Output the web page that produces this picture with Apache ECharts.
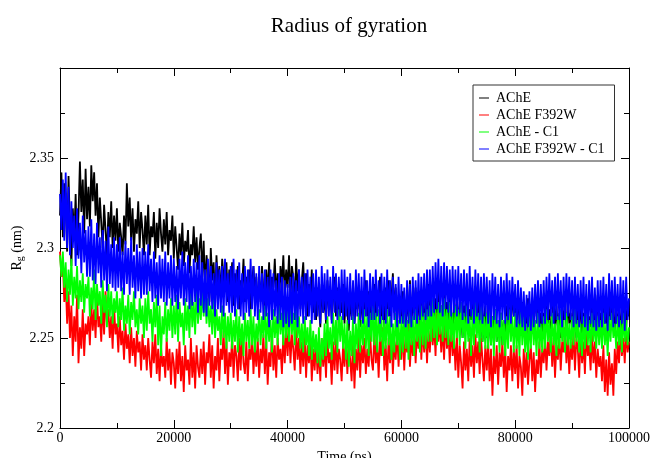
<!DOCTYPE html>
<html>
<head>
    <meta charset="utf-8">
    <title>Radius of gyration</title>
    <script src="https://cdn.jsdelivr.net/npm/echarts@6/dist/echarts.min.js"></script>
</head>
<body style="margin:0;">
    <div id="main" style="width: 651px;height:458px;"></div>
    <script type="text/javascript">
        // time between frames (ps)
        var timeStep = 250;

        var seriesNames = ['AChE', 'AChE F392W', 'AChE - C1', 'AChE F392W - C1'];
        var seriesColors = ['#000000', '#ff0000', '#00ff00', '#0000ff'];

        // Rg (nm), one value every 250 ps from 0 to 100000 ps (20 values per line = 5000 ps)
        var rgAChE = [
            2.318, 2.342, 2.306, 2.336, 2.324, 2.298, 2.340, 2.312, 2.290, 2.322, 2.304, 2.330, 2.296, 2.318, 2.348, 2.320, 2.338, 2.308, 2.344, 2.316,
            2.334, 2.312, 2.346, 2.326, 2.342, 2.318, 2.336, 2.306, 2.328, 2.314, 2.300, 2.324, 2.310, 2.296, 2.320, 2.306, 2.326, 2.300, 2.318, 2.304,
            2.322, 2.298, 2.314, 2.306, 2.296, 2.318, 2.302, 2.336, 2.312, 2.328, 2.304, 2.322, 2.298, 2.316, 2.308, 2.326, 2.300, 2.320, 2.310, 2.296,
            2.318, 2.302, 2.324, 2.296, 2.312, 2.306, 2.320, 2.294, 2.314, 2.300, 2.322, 2.308, 2.298, 2.316, 2.302, 2.320, 2.296, 2.310, 2.304, 2.318,
            2.294, 2.312, 2.300, 2.288, 2.308, 2.296, 2.314, 2.290, 2.304, 2.298, 2.310, 2.286, 2.302, 2.296, 2.312, 2.292, 2.306, 2.288, 2.300, 2.308,
            2.284, 2.304, 2.276, 2.296, 2.288, 2.270, 2.300, 2.282, 2.292, 2.268, 2.296, 2.280, 2.290, 2.272, 2.294, 2.284, 2.276, 2.292, 2.270, 2.288,
            2.276, 2.292, 2.268, 2.286, 2.274, 2.290, 2.266, 2.282, 2.278, 2.294, 2.270, 2.284, 2.272, 2.288, 2.266, 2.280, 2.290, 2.274, 2.284, 2.268,
            2.282, 2.270, 2.290, 2.276, 2.266, 2.288, 2.274, 2.292, 2.270, 2.284, 2.278, 2.294, 2.272, 2.286, 2.268, 2.290, 2.280, 2.296, 2.274, 2.288,
            2.278, 2.296, 2.272, 2.290, 2.284, 2.268, 2.294, 2.276, 2.288, 2.266, 2.282, 2.292, 2.270, 2.286, 2.262, 2.280, 2.272, 2.288, 2.264, 2.278,
            2.260, 2.278, 2.268, 2.256, 2.280, 2.264, 2.274, 2.258, 2.282, 2.266, 2.276, 2.260, 2.272, 2.284, 2.262, 2.278, 2.256, 2.270, 2.264, 2.280,
            2.258, 2.276, 2.264, 2.254, 2.272, 2.262, 2.280, 2.258, 2.270, 2.266, 2.278, 2.256, 2.274, 2.260, 2.268, 2.282, 2.262, 2.276, 2.258, 2.270,
            2.264, 2.280, 2.258, 2.276, 2.268, 2.284, 2.260, 2.274, 2.256, 2.278, 2.266, 2.282, 2.262, 2.272, 2.286, 2.264, 2.278, 2.258, 2.274, 2.268,
            2.260, 2.276, 2.266, 2.254, 2.272, 2.262, 2.282, 2.258, 2.270, 2.264, 2.278, 2.256, 2.268, 2.274, 2.260, 2.276, 2.254, 2.270, 2.262, 2.280,
            2.258, 2.274, 2.264, 2.252, 2.272, 2.260, 2.278, 2.256, 2.268, 2.262, 2.276, 2.254, 2.270, 2.258, 2.274, 2.264, 2.252, 2.270, 2.260, 2.272,
            2.256, 2.270, 2.262, 2.250, 2.268, 2.258, 2.274, 2.252, 2.266, 2.260, 2.272, 2.250, 2.264, 2.256, 2.270, 2.254, 2.266, 2.248, 2.262, 2.268,
            2.250, 2.264, 2.256, 2.246, 2.262, 2.252, 2.266, 2.248, 2.258, 2.254, 2.264, 2.246, 2.260, 2.250, 2.268, 2.256, 2.272, 2.258, 2.276, 2.262,
            2.268, 2.256, 2.274, 2.260, 2.252, 2.270, 2.258, 2.266, 2.250, 2.272, 2.262, 2.254, 2.268, 2.258, 2.276, 2.262, 2.270, 2.256, 2.264, 2.252,
            2.264, 2.252, 2.270, 2.258, 2.266, 2.250, 2.262, 2.272, 2.256, 2.268, 2.254, 2.264, 2.250, 2.270, 2.260, 2.266, 2.252, 2.272, 2.258, 2.264,
            2.254, 2.268, 2.260, 2.250, 2.266, 2.256, 2.272, 2.252, 2.264, 2.258, 2.270, 2.250, 2.262, 2.256, 2.268, 2.252, 2.266, 2.260, 2.274, 2.256,
            2.264, 2.252, 2.270, 2.258, 2.266, 2.250, 2.262, 2.272, 2.256, 2.268, 2.254, 2.264, 2.258, 2.270, 2.252, 2.266, 2.260, 2.272, 2.256, 2.268,
            2.262
        ];
        var rgF392W = [
            2.298, 2.284, 2.292, 2.270, 2.282, 2.258, 2.276, 2.250, 2.268, 2.240, 2.262, 2.248, 2.274, 2.236, 2.256, 2.244, 2.266, 2.240, 2.258, 2.252,
            2.262, 2.246, 2.270, 2.254, 2.266, 2.250, 2.274, 2.256, 2.262, 2.248, 2.270, 2.252, 2.276, 2.258, 2.266, 2.250, 2.262, 2.244, 2.268, 2.252,
            2.258, 2.242, 2.262, 2.246, 2.254, 2.238, 2.258, 2.244, 2.252, 2.236, 2.256, 2.240, 2.250, 2.234, 2.254, 2.242, 2.248, 2.232, 2.252, 2.238,
            2.246, 2.232, 2.250, 2.238, 2.228, 2.248, 2.236, 2.252, 2.230, 2.244, 2.226, 2.246, 2.234, 2.240, 2.228, 2.250, 2.232, 2.244, 2.224, 2.242,
            2.236, 2.222, 2.244, 2.230, 2.248, 2.226, 2.240, 2.220, 2.246, 2.232, 2.238, 2.224, 2.250, 2.228, 2.242, 2.222, 2.246, 2.234, 2.228, 2.244,
            2.230, 2.248, 2.224, 2.242, 2.236, 2.252, 2.228, 2.246, 2.222, 2.240, 2.232, 2.250, 2.226, 2.244, 2.238, 2.254, 2.230, 2.248, 2.224, 2.242,
            2.234, 2.252, 2.228, 2.246, 2.240, 2.226, 2.250, 2.232, 2.254, 2.236, 2.230, 2.248, 2.226, 2.244, 2.238, 2.252, 2.230, 2.246, 2.234, 2.250,
            2.228, 2.244, 2.236, 2.252, 2.230, 2.248, 2.224, 2.242, 2.234, 2.254, 2.232, 2.246, 2.228, 2.250, 2.238, 2.244, 2.230, 2.252, 2.236, 2.256,
            2.240, 2.258, 2.236, 2.252, 2.244, 2.232, 2.256, 2.238, 2.250, 2.230, 2.248, 2.234, 2.252, 2.228, 2.246, 2.236, 2.250, 2.226, 2.244, 2.232,
            2.248, 2.230, 2.244, 2.226, 2.250, 2.234, 2.246, 2.228, 2.252, 2.236, 2.242, 2.224, 2.248, 2.232, 2.250, 2.230, 2.244, 2.238, 2.226, 2.246,
            2.234, 2.250, 2.230, 2.246, 2.238, 2.226, 2.248, 2.222, 2.244, 2.232, 2.252, 2.228, 2.246, 2.236, 2.250, 2.230, 2.244, 2.234, 2.252, 2.238,
            2.232, 2.254, 2.236, 2.248, 2.228, 2.250, 2.240, 2.256, 2.232, 2.246, 2.226, 2.250, 2.236, 2.252, 2.230, 2.248, 2.238, 2.254, 2.234, 2.250,
            2.238, 2.256, 2.232, 2.252, 2.242, 2.258, 2.234, 2.250, 2.240, 2.256, 2.236, 2.254, 2.244, 2.260, 2.238, 2.256, 2.242, 2.258, 2.236, 2.254,
            2.242, 2.262, 2.246, 2.258, 2.240, 2.264, 2.248, 2.260, 2.242, 2.256, 2.238, 2.262, 2.244, 2.254, 2.236, 2.258, 2.240, 2.250, 2.232, 2.252,
            2.228, 2.246, 2.236, 2.222, 2.248, 2.232, 2.244, 2.226, 2.250, 2.234, 2.246, 2.228, 2.252, 2.236, 2.248, 2.230, 2.250, 2.238, 2.226, 2.246,
            2.232, 2.248, 2.226, 2.244, 2.218, 2.240, 2.230, 2.246, 2.224, 2.242, 2.234, 2.248, 2.228, 2.244, 2.220, 2.240, 2.232, 2.246, 2.226, 2.244,
            2.230, 2.246, 2.222, 2.240, 2.234, 2.218, 2.244, 2.228, 2.242, 2.224, 2.238, 2.246, 2.226, 2.242, 2.220, 2.238, 2.230, 2.248, 2.228, 2.244,
            2.236, 2.250, 2.232, 2.248, 2.240, 2.254, 2.234, 2.250, 2.228, 2.246, 2.238, 2.252, 2.232, 2.248, 2.242, 2.256, 2.236, 2.250, 2.230, 2.248,
            2.238, 2.254, 2.232, 2.250, 2.244, 2.228, 2.252, 2.236, 2.248, 2.230, 2.254, 2.240, 2.246, 2.232, 2.252, 2.236, 2.248, 2.228, 2.244, 2.234,
            2.240, 2.226, 2.246, 2.220, 2.238, 2.218, 2.242, 2.224, 2.236, 2.218, 2.244, 2.230, 2.248, 2.236, 2.254, 2.240, 2.250, 2.236, 2.254, 2.242,
            2.248
        ];
        var rgAChEC1 = [
            2.296, 2.284, 2.298, 2.278, 2.292, 2.270, 2.288, 2.274, 2.294, 2.268, 2.284, 2.272, 2.290, 2.266, 2.282, 2.270, 2.286, 2.264, 2.280, 2.272,
            2.284, 2.262, 2.278, 2.266, 2.288, 2.260, 2.280, 2.268, 2.276, 2.258, 2.282, 2.264, 2.274, 2.256, 2.280, 2.262, 2.276, 2.258, 2.272, 2.264,
            2.276, 2.256, 2.272, 2.260, 2.278, 2.254, 2.268, 2.258, 2.274, 2.252, 2.270, 2.260, 2.276, 2.256, 2.266, 2.252, 2.272, 2.258, 2.268, 2.250,
            2.272, 2.254, 2.276, 2.258, 2.266, 2.248, 2.270, 2.256, 2.274, 2.246, 2.268, 2.240, 2.262, 2.252, 2.270, 2.248, 2.266, 2.254, 2.272, 2.250,
            2.268, 2.252, 2.274, 2.248, 2.270, 2.256, 2.264, 2.246, 2.272, 2.254, 2.268, 2.250, 2.276, 2.256, 2.270, 2.252, 2.278, 2.258, 2.272, 2.260,
            2.278, 2.262, 2.276, 2.258, 2.272, 2.256, 2.268, 2.252, 2.272, 2.250, 2.266, 2.254, 2.262, 2.246, 2.268, 2.250, 2.264, 2.244, 2.262, 2.248,
            2.264, 2.244, 2.260, 2.248, 2.266, 2.242, 2.262, 2.246, 2.258, 2.240, 2.264, 2.248, 2.260, 2.244, 2.266, 2.246, 2.262, 2.242, 2.258, 2.248,
            2.266, 2.246, 2.262, 2.250, 2.268, 2.244, 2.264, 2.248, 2.260, 2.242, 2.266, 2.250, 2.262, 2.246, 2.268, 2.252, 2.264, 2.246, 2.270, 2.250,
            2.266, 2.248, 2.270, 2.252, 2.264, 2.246, 2.268, 2.250, 2.262, 2.244, 2.258, 2.242, 2.262, 2.246, 2.256, 2.240, 2.260, 2.238, 2.254, 2.242,
            2.252, 2.236, 2.256, 2.234, 2.250, 2.238, 2.258, 2.240, 2.262, 2.244, 2.256, 2.238, 2.264, 2.246, 2.260, 2.242, 2.266, 2.248, 2.262, 2.244,
            2.258, 2.238, 2.260, 2.234, 2.254, 2.240, 2.262, 2.236, 2.258, 2.244, 2.264, 2.242, 2.260, 2.246, 2.266, 2.244, 2.262, 2.240, 2.264, 2.248,
            2.268, 2.246, 2.264, 2.242, 2.266, 2.248, 2.262, 2.240, 2.260, 2.244, 2.266, 2.246, 2.262, 2.238, 2.258, 2.242, 2.264, 2.246, 2.260, 2.238,
            2.262, 2.242, 2.266, 2.244, 2.260, 2.238, 2.264, 2.246, 2.262, 2.240, 2.266, 2.248, 2.262, 2.242, 2.268, 2.246, 2.264, 2.244, 2.266, 2.248,
            2.268, 2.248, 2.272, 2.250, 2.266, 2.246, 2.270, 2.252, 2.268, 2.248, 2.272, 2.250, 2.266, 2.246, 2.270, 2.248, 2.264, 2.244, 2.268, 2.250,
            2.266, 2.246, 2.270, 2.250, 2.264, 2.244, 2.268, 2.248, 2.262, 2.240, 2.266, 2.246, 2.270, 2.250, 2.264, 2.242, 2.268, 2.248, 2.262, 2.244,
            2.264, 2.244, 2.268, 2.246, 2.262, 2.240, 2.266, 2.248, 2.260, 2.242, 2.264, 2.246, 2.260, 2.240, 2.262, 2.244, 2.266, 2.248, 2.262, 2.242,
            2.264, 2.244, 2.260, 2.240, 2.266, 2.246, 2.262, 2.242, 2.258, 2.238, 2.262, 2.244, 2.266, 2.246, 2.260, 2.240, 2.264, 2.244, 2.258, 2.242,
            2.262, 2.244, 2.266, 2.248, 2.260, 2.242, 2.264, 2.246, 2.258, 2.240, 2.262, 2.244, 2.266, 2.248, 2.260, 2.242, 2.264, 2.246, 2.258, 2.244,
            2.262, 2.246, 2.266, 2.248, 2.260, 2.242, 2.258, 2.240, 2.262, 2.244, 2.266, 2.246, 2.260, 2.242, 2.264, 2.248, 2.260, 2.244, 2.262, 2.246,
            2.260, 2.244, 2.264, 2.246, 2.258, 2.240, 2.262, 2.248, 2.264, 2.250, 2.258, 2.244, 2.262, 2.246, 2.260, 2.242, 2.264, 2.248, 2.260, 2.246,
            2.256
        ];
        var rgF392WC1 = [
            2.330, 2.310, 2.338, 2.304, 2.342, 2.300, 2.334, 2.296, 2.326, 2.300, 2.318, 2.290, 2.322, 2.294, 2.314, 2.286, 2.318, 2.292, 2.310, 2.284,
            2.312, 2.284, 2.316, 2.282, 2.308, 2.280, 2.314, 2.286, 2.306, 2.278, 2.310, 2.282, 2.304, 2.276, 2.312, 2.280, 2.302, 2.278, 2.306, 2.276,
            2.302, 2.278, 2.306, 2.276, 2.298, 2.274, 2.304, 2.280, 2.300, 2.274, 2.306, 2.278, 2.296, 2.272, 2.302, 2.276, 2.298, 2.272, 2.300, 2.274,
            2.298, 2.274, 2.302, 2.276, 2.294, 2.270, 2.298, 2.272, 2.292, 2.268, 2.296, 2.272, 2.294, 2.270, 2.298, 2.268, 2.292, 2.272, 2.296, 2.268,
            2.294, 2.270, 2.290, 2.266, 2.294, 2.272, 2.298, 2.268, 2.292, 2.270, 2.296, 2.266, 2.290, 2.268, 2.294, 2.270, 2.292, 2.264, 2.296, 2.268,
            2.292, 2.264, 2.288, 2.262, 2.294, 2.268, 2.290, 2.266, 2.286, 2.262, 2.292, 2.266, 2.288, 2.264, 2.290, 2.262, 2.294, 2.268, 2.286, 2.264,
            2.290, 2.264, 2.294, 2.262, 2.288, 2.266, 2.292, 2.262, 2.286, 2.260, 2.290, 2.264, 2.288, 2.262, 2.294, 2.266, 2.290, 2.262, 2.286, 2.260,
            2.290, 2.264, 2.286, 2.260, 2.288, 2.262, 2.284, 2.256, 2.288, 2.260, 2.286, 2.262, 2.282, 2.258, 2.286, 2.260, 2.284, 2.256, 2.282, 2.258,
            2.280, 2.256, 2.284, 2.258, 2.286, 2.260, 2.282, 2.256, 2.288, 2.262, 2.284, 2.258, 2.286, 2.260, 2.288, 2.262, 2.284, 2.258, 2.286, 2.260,
            2.288, 2.262, 2.284, 2.258, 2.290, 2.264, 2.286, 2.260, 2.288, 2.262, 2.284, 2.258, 2.290, 2.264, 2.286, 2.260, 2.284, 2.262, 2.288, 2.260,
            2.288, 2.262, 2.284, 2.258, 2.286, 2.260, 2.282, 2.258, 2.288, 2.262, 2.286, 2.260, 2.284, 2.258, 2.288, 2.262, 2.282, 2.256, 2.286, 2.260,
            2.284, 2.260, 2.288, 2.262, 2.282, 2.258, 2.286, 2.260, 2.284, 2.258, 2.288, 2.262, 2.282, 2.256, 2.284, 2.260, 2.280, 2.256, 2.284, 2.258,
            2.280, 2.258, 2.278, 2.256, 2.282, 2.258, 2.280, 2.256, 2.284, 2.260, 2.282, 2.258, 2.286, 2.260, 2.284, 2.262, 2.286, 2.260, 2.288, 2.262,
            2.288, 2.262, 2.290, 2.264, 2.292, 2.266, 2.294, 2.264, 2.290, 2.262, 2.292, 2.266, 2.290, 2.264, 2.288, 2.262, 2.290, 2.264, 2.288, 2.262,
            2.290, 2.264, 2.286, 2.260, 2.288, 2.262, 2.286, 2.258, 2.290, 2.262, 2.284, 2.258, 2.288, 2.262, 2.286, 2.260, 2.284, 2.258, 2.286, 2.262,
            2.284, 2.258, 2.282, 2.256, 2.286, 2.260, 2.284, 2.258, 2.280, 2.256, 2.284, 2.260, 2.282, 2.258, 2.286, 2.260, 2.282, 2.258, 2.284, 2.262,
            2.280, 2.256, 2.282, 2.258, 2.278, 2.256, 2.276, 2.254, 2.274, 2.256, 2.276, 2.254, 2.278, 2.256, 2.280, 2.258, 2.282, 2.256, 2.280, 2.258,
            2.282, 2.258, 2.284, 2.260, 2.286, 2.262, 2.282, 2.258, 2.284, 2.260, 2.286, 2.260, 2.282, 2.256, 2.284, 2.260, 2.286, 2.262, 2.284, 2.260,
            2.282, 2.256, 2.284, 2.258, 2.280, 2.256, 2.282, 2.258, 2.284, 2.256, 2.280, 2.254, 2.282, 2.258, 2.284, 2.256, 2.278, 2.254, 2.282, 2.256,
            2.282, 2.256, 2.284, 2.258, 2.280, 2.254, 2.286, 2.260, 2.282, 2.256, 2.284, 2.258, 2.280, 2.256, 2.284, 2.258, 2.282, 2.254, 2.284, 2.260,
            2.272
        ];

        var allRg = [rgAChE, rgF392W, rgAChEC1, rgF392WC1];

        var myChart = echarts.init(document.getElementById('main'));

        var serif = 'Liberation Serif';

        var series = [];
        for (var s = 0; s < allRg.length; s++) {
            var pts = [];
            for (var i = 0; i < allRg[s].length; i++) {
                pts.push([i * timeStep, allRg[s][i]]);
            }
            series.push({
                name: seriesNames[s],
                type: 'line',
                data: pts,
                showSymbol: false,
                sampling: null,
                color: seriesColors[s],
                lineStyle: { width: 1.8, color: seriesColors[s] },
                z: 2 + s
            });
        }

        // frame line, ticks pointing into the plot on all four sides
        function frameAxis(extra) {
            var a = {
                axisLine: { onZero: false, lineStyle: { color: '#000', width: 1 } },
                axisTick: { inside: true, length: 8, lineStyle: { color: '#000' } },
                minorTick: { show: true, splitNumber: 2, length: 5, lineStyle: { color: '#000' } },
                splitLine: { show: false }
            };
            for (var k in extra) a[k] = extra[k];
            return a;
        }

        var option = {
            animation: false,
            backgroundColor: '#ffffff',
            title: {
                text: 'Radius of gyration',
                left: 344,
                textAlign: 'center',
                top: 11,
                textStyle: { fontFamily: serif, fontSize: 21, fontWeight: 'normal', color: '#000' }
            },
            legend: {
                data: seriesNames,
                orient: 'vertical',
                left: 473,
                top: 85,
                padding: [6, 10, 5, 6],
                itemGap: 3,
                itemWidth: 10,
                itemHeight: 1,
                icon: 'rect',
                borderColor: '#333',
                borderWidth: 1,
                borderRadius: 0,
                backgroundColor: '#fff',
                textStyle: { fontFamily: serif, fontSize: 14, color: '#000', padding: [0, 0, 0, 2] }
            },
            grid: { left: 60, right: 22, top: 68, bottom: 30, outerBoundsMode: 'none' },
            xAxis: [frameAxis({
                type: 'value',
                position: 'bottom',
                min: 0,
                max: 100000,
                interval: 20000,
                name: 'Time (ps)',
                nameLocation: 'middle',
                nameGap: 22,
                nameTextStyle: { fontFamily: serif, fontSize: 14, color: '#000' },
                axisLabel: {
                    fontFamily: serif, fontSize: 14, color: '#000', margin: 3,
                    formatter: function (v) { return String(v); }
                }
            }), frameAxis({
                type: 'value',
                position: 'top',
                min: 0,
                max: 100000,
                interval: 20000,
                axisLabel: { show: false }
            })],
            yAxis: [frameAxis({
                type: 'value',
                position: 'left',
                min: 2.2,
                max: 2.4,
                interval: 0.05,
                name: '{r|R}{g|g}{r| (nm)}',
                nameLocation: 'middle',
                nameRotate: 90,
                nameGap: 35,
                nameMoveOverlap: false,
                nameTextStyle: {
                    rich: {
                        r: { fontFamily: serif, fontSize: 14, color: '#000' },
                        g: { fontFamily: serif, fontSize: 10, color: '#000', padding: [6, 0, 0, 0] }
                    }
                },
                axisLabel: { fontFamily: serif, fontSize: 14, color: '#000', margin: 6, showMaxLabel: false }
            }), frameAxis({
                type: 'value',
                position: 'right',
                min: 2.2,
                max: 2.4,
                interval: 0.05,
                axisLabel: { show: false }
            })],
            series: series
        };
        myChart.setOption(option);
    </script>
</body>
</html>
